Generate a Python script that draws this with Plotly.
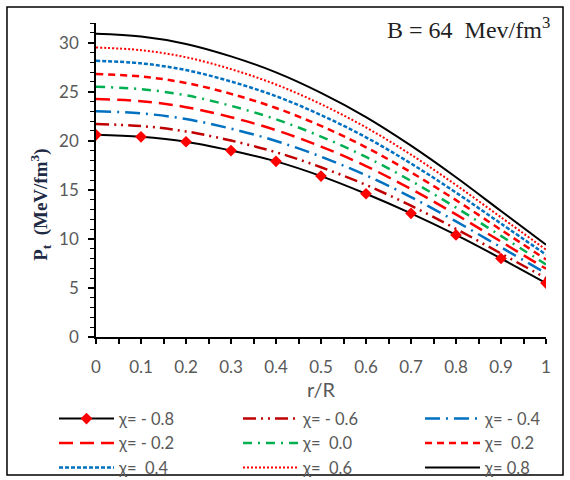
import plotly.graph_objects as go

r_R = [0, 0.1, 0.2, 0.3, 0.4, 0.5, 0.6, 0.7, 0.8, 0.9, 1.0]

chi_labels = ["χ= - 0.8", "χ= - 0.6", "χ= - 0.4",
              "χ= - 0.2", "χ=  0.0", "χ=  0.2",
              "χ=  0.4", "χ=  0.6", "χ= 0.8"]

pt_m08 = [20.6, 20.4, 19.9, 19.0, 17.9, 16.4, 14.6, 12.6, 10.4, 8.0, 5.5]
pt_m06 = [21.7, 21.5, 20.95, 20.02, 18.83, 17.30, 15.5, 13.38, 11.02, 8.51, 6.0]
pt_m04 = [23.0, 22.79, 22.21, 21.23, 19.98, 18.38, 16.48, 14.26, 11.78, 9.14, 6.5]
pt_m02 = [24.25, 24.03, 23.42, 22.4, 21.08, 19.41, 17.42, 15.08, 12.49, 9.72, 6.95]
pt_p00 = [25.5, 25.26, 24.63, 23.56, 22.19, 20.43, 18.35, 15.91, 13.19, 10.3, 7.4]
pt_p02 = [26.8, 26.55, 25.89, 24.78, 23.34, 21.51, 19.33, 16.78, 13.95, 10.92, 7.9]
pt_p04 = [28.15, 27.89, 27.2, 26.04, 24.54, 22.62, 20.35, 17.68, 14.72, 11.56, 8.4]
pt_p06 = [29.5, 29.23, 28.51, 27.3, 25.73, 23.73, 21.36, 18.58, 15.49, 12.2, 8.9]
pt_p08 = [30.9, 30.62, 29.87, 28.6, 26.97, 24.88, 22.41, 19.5, 16.28, 12.84, 9.4]

series = [pt_m08, pt_m06, pt_m04, pt_m02, pt_p00, pt_p02, pt_p04, pt_p06, pt_p08]

styles = [
    dict(color="#000000", dash="solid", width=2),
    dict(color="#C00000", dash="13px,5px,2px,5px,2px,5px", width=2.5),
    dict(color="#0070C0", dash="15px,6px,2px,6px", width=2.5),
    dict(color="#FF0000", dash="14px,7px", width=2.5),
    dict(color="#00B050", dash="9px,6px,2px,6px", width=2.5),
    dict(color="#FF0000", dash="7px,5px", width=2.5),
    dict(color="#0070C0", dash="4px,2px", width=2.5),
    dict(color="#FF0000", dash="2px,2px", width=2),
    dict(color="#000000", dash="solid", width=2),
]

legend_ids = ["legend", "legend2", "legend3"]

fig = go.Figure()
for i, (ys, st, name) in enumerate(zip(series, styles, chi_labels)):
    if i == 0:
        kw = dict(mode="lines+markers",
                  marker=dict(symbol="diamond", size=9, color="#FF0000"))
    else:
        kw = dict(mode="lines")
    fig.add_trace(go.Scatter(x=r_R, y=ys, name=name, legend=legend_ids[i % 3],
                             line=dict(color=st["color"], dash=st["dash"],
                                       width=st["width"], shape="spline"),
                             **kw))

grey = "#595959"
leg_common = dict(orientation="v", yanchor="top", xanchor="left",
                  itemwidth=55, font=dict(size=16.5, color=grey),
                  traceorder="normal", bgcolor="rgba(0,0,0,0)",
                  tracegroupgap=0)
leg_y = -0.205
fig.update_layout(
    width=570, height=480,
    margin=dict(l=96, r=24, t=23, b=143, autoexpand=False),
    paper_bgcolor="white", plot_bgcolor="white",
    font=dict(family="Lato, sans-serif", color=grey, size=15),
    showlegend=True,
    legend=dict(x=(54 - 96) / 450, y=leg_y, **leg_common),
    legend2=dict(x=(238 - 96) / 450, y=leg_y, **leg_common),
    legend3=dict(x=(420 - 96) / 450, y=leg_y, **leg_common),
    xaxis=dict(range=[0, 1], showgrid=False, zeroline=False,
               showline=True, linecolor="black", linewidth=1.5,
               ticks="outside", ticklen=5, tickcolor="black", tickwidth=1.5,
               tickvals=r_R, ticktext=["0", "0.1", "0.2", "0.3", "0.4", "0.5",
                                       "0.6", "0.7", "0.8", "0.9", "1"],
               tickfont=dict(size=17, color=grey), ticklabelstandoff=9,
               minor=dict(dtick=0.05, ticks="outside", ticklen=5,
                          tickcolor="black", tickwidth=1.5)),
    yaxis=dict(range=[0, 32], showgrid=False, zeroline=False,
               showline=True, linecolor="black", linewidth=1.5,
               ticks="outside", ticklen=6, tickcolor="black", tickwidth=1.5,
               tickvals=[0, 5, 10, 15, 20, 25, 30],
               tickfont=dict(size=17, color=grey), ticklabelstandoff=6,
               minor=dict(dtick=1, ticks="outside", ticklen=4,
                          tickcolor="black", tickwidth=1.2)),
)

fig.add_annotation(text="r/R", xref="paper", yref="paper", x=0.5, y=-0.166,
                   xanchor="center", yanchor="middle", showarrow=False,
                   font=dict(size=20, color=grey, family="Lato, sans-serif"))
fig.add_annotation(text="<b>P<sub>t</sub>  (MeV/fm<sup>3</sup>)</b>", xref="paper", yref="paper",
                   x=-0.125, y=0.42, xanchor="center", yanchor="middle", textangle=-90,
                   showarrow=False,
                   font=dict(size=19, color="#1F2A44", family="Liberation Serif, serif"))
fig.add_annotation(text="B = 64  Mev/fm<sup>3</sup>", xref="paper", yref="paper",
                   x=1.013, y=1.037, xanchor="right", yanchor="top",
                   showarrow=False,
                   font=dict(size=24, color="#1F1F1F", family="Liberation Serif, serif"))

fig.add_shape(type="rect", xref="paper", yref="paper",
              x0=-0.1978, x1=1.0378, y0=-0.4395, y1=1.051,
              line=dict(color="black", width=1.5), fillcolor="rgba(0,0,0,0)")

fig.write_html("out.html")
